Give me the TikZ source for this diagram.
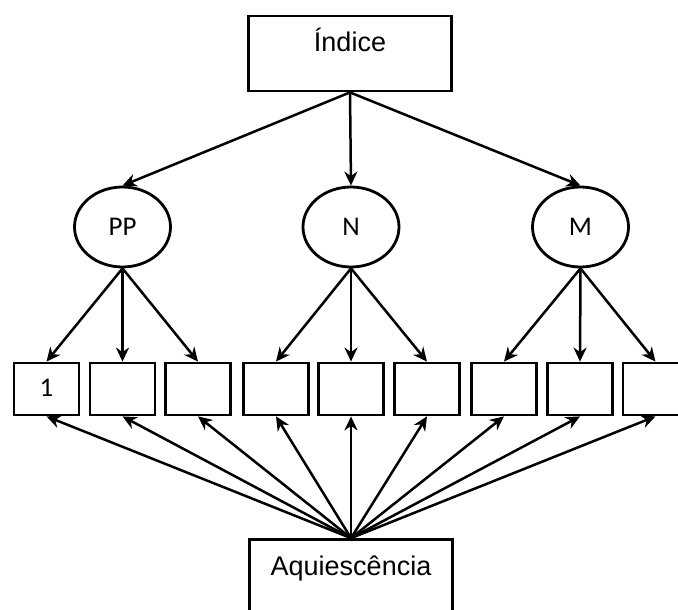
\documentclass[tikz,border=0pt]{standalone}
\usepackage{fontspec}
\setmainfont{Liberation Sans}
\newfontfamily\calfont{Carlito}
\usetikzlibrary{shapes.geometric,arrows.meta}

\begin{document}
\begin{tikzpicture}[x=1pt,y=-1pt,
    bigbox/.style={draw, line width=2.8pt, minimum width=203pt, minimum height=75pt, inner sep=0pt, font=\fontsize{27}{30}\selectfont, text height=19pt, text depth=22pt},
    factor/.style={draw, ellipse, line width=2.8pt, minimum width=96pt, minimum height=80pt, inner sep=0pt, font=\calfont\fontsize{27}{30}\selectfont},
    item/.style={draw, line width=2.8pt, minimum width=65pt, minimum height=52pt, inner sep=0pt, font=\calfont\fontsize{27}{30}\selectfont, text depth=3pt},
    arr/.style={-{Stealth[length=14pt,width=13pt,inset=4.5pt]}, line width=2.5pt}]
                    \useasboundingbox (0,0) rectangle (678,610);

                    \node[bigbox] (idx) at (350,53.5) {Índice};
                    \node[bigbox] (aq) at (351,577) {Aquiescência};

                    \node[factor] (pp) at (122.5,227) {PP};
                    \node[factor] (n) at (351,227) {N};
                    \node[factor] (m) at (580.5,227) {M};

                    \node[item] (i1) at (46.5,389) {1};
                    \node[item] (i2) at (122.5,389) {};
                    \node[item] (i3) at (198,389) {};
                    \node[item] (i4) at (276,389) {};
                    \node[item] (i5) at (351,389) {};
                    \node[item] (i6) at (427,389) {};
                    \node[item] (i7) at (504,389) {};
                    \node[item] (i8) at (580,389) {};
                    \node[item] (i9) at (655.5,389) {};

                    \draw[arr] (idx.south) -- (pp.north);
                    \draw[arr] (idx.south) -- (n.north);
                    \draw[arr] (idx.south) -- (m.north);

                    \draw[arr] (pp.south) -- (i1.north);
                    \draw[arr] (pp.south) -- (i2.north);
                    \draw[arr] (pp.south) -- (i3.north);
                    \draw[arr] (n.south) -- (i4.north);
                    \draw[arr] (n.south) -- (i5.north);
                    \draw[arr] (n.south) -- (i6.north);
                    \draw[arr] (m.south) -- (i7.north);
                    \draw[arr] (m.south) -- (i8.north);
                    \draw[arr] (m.south) -- (i9.north);

                    \draw[arr] (aq.north) -- (i1.south);
                    \draw[arr] (aq.north) -- (i2.south);
                    \draw[arr] (aq.north) -- (i3.south);
                    \draw[arr] (aq.north) -- (i4.south);
                    \draw[arr] (aq.north) -- (i5.south);
                    \draw[arr] (aq.north) -- (i6.south);
                    \draw[arr] (aq.north) -- (i7.south);
                    \draw[arr] (aq.north) -- (i8.south);
                    \draw[arr] (aq.north) -- (i9.south);
                \end{tikzpicture}
\end{document}
